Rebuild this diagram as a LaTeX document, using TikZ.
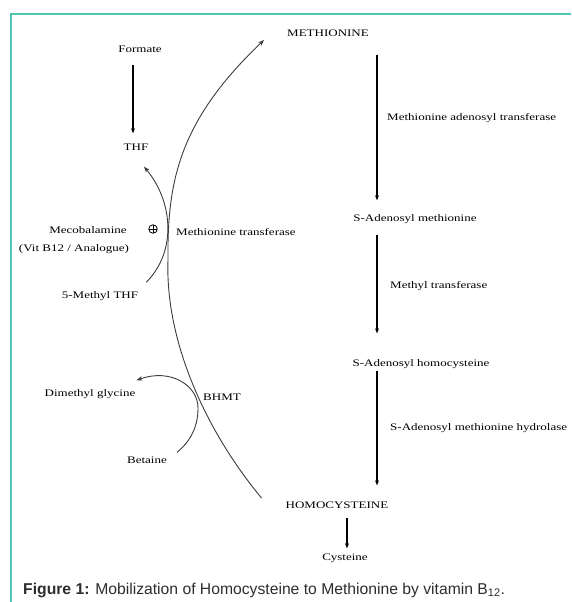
\documentclass[tikz,border=0pt]{standalone}
\usepackage{fontspec}
\setmainfont{Liberation Serif}[FakeStretch=1.3]
\newfontfamily\capfont{Liberation Sans}
\usetikzlibrary{arrows.meta,calc}
\definecolor{framec}{RGB}{77,199,179}
\definecolor{curvec}{RGB}{60,60,60}
\definecolor{capc}{RGB}{45,45,45}
\begin{document}
\begin{tikzpicture}[x=1pt,y=-1pt,
  lbl/.style={inner sep=0pt, font=\fontsize{10}{12}\selectfont, text height=7pt, text depth=0pt},
  arr/.style={line width=1.4pt, -{Stealth[length=5pt,width=4pt]}},
  crv/.style={draw=curvec, line width=0.9pt},
  crvarr/.style={crv, -{Stealth[length=6pt,width=4.5pt]}},
  oplusmark/.style={circle, draw, line width=0.8pt, minimum size=8.5pt, inner sep=0pt,
    path picture={\draw[line width=0.8pt] (path picture bounding box.north) -- (path picture bounding box.south)
      (path picture bounding box.west) -- (path picture bounding box.east);}}
]
\useasboundingbox (0,0) rectangle (571,602);
\draw[framec, line width=2pt] (571,14) -- (11,14) -- (11,602);

% labels
\node[lbl] (formate) at (140,49) {Formate};
\node[lbl] (thf) at (136,147) {THF};
\node[lbl] (met) at (328,33) {METHIONINE};
\node[lbl] (sam) at (415,218) {S-Adenosyl methionine};
\node[lbl] (sah) at (421,363) {S-Adenosyl homocysteine};
\node[lbl] (hcy) at (337,505) {HOMOCYSTEINE};
\node[lbl] (cys) at (345,557) {Cysteine};
\node[lbl,anchor=west] (mat) at (387,117) {Methionine adenosyl transferase};
\node[lbl,anchor=west] (mt) at (390,285) {Methyl transferase};
\node[lbl,anchor=west] (sahh) at (390,427) {S-Adenosyl methionine hydrolase};
\node[lbl,anchor=west] (ms) at (176,232) {Methionine transferase};
\node[lbl] (mecob) at (88,230) {Mecobalamine};
\node[lbl] (vit) at (74,248) {(Vit B12 / Analogue)};
\node[lbl] (mthf) at (100,295) {5-Methyl THF};
\node[lbl] (dmg) at (90,393) {Dimethyl glycine};
\node[lbl] (bhmt) at (222,397) {BHMT};
\node[lbl] (bet) at (147,460) {Betaine};
\node[oplusmark] (plus) at (153,229) {};

% right column arrows
\coordinate (col) at (377,0);
\coordinate (col2) at (347,0);
\draw[arr, shorten <=18pt, shorten >=14pt] (met.south -| col) -- (sam.north -| col);
\draw[arr, shorten <=13pt, shorten >=26pt] (sam.south -| col) -- (sah.north -| col);
\draw[arr, shorten <=4pt, shorten >=16pt] (sah.south -| col) -- (hcy.north -| col);
\draw[arr, line width=1.7pt, shorten <=9pt, shorten >=5pt] (hcy.south -| col2) -- (cys.north -| col2);
\draw[arr, shorten <=12pt, shorten >=10pt] ([xshift=-3pt]thf.north |- formate.south) -- ([xshift=-3pt]thf.north);

% main curve homocysteine -> methionine
\draw[crvarr] ($(hcy.west)+(-24,-7)$) .. controls (205,430) and (165,340) .. (168,260)
  .. controls (167,180) and (180,120) .. ($(met.west)+(-23,7)$);
% 5-methyl THF -> THF
\draw[crvarr] ($(mthf.north east)+(8,-9)$) .. controls (178,250) and (172,200) .. ($(thf.south)+(8,16)$);
% betaine -> dimethyl glycine
\draw[crvarr] ($(bet.north east)+(10,-4)$) .. controls (192,440) and (198,425) .. (198,408)
  .. controls (198,385) and (170,368) .. ($(dmg.north east)+(1,-9)$);

% caption
\node[anchor=base west, inner sep=0pt, text=capc, font=\capfont\fontsize{15.7}{18}\selectfont] (cap) at (23,594)
  {\textbf{Figure 1:} Mobilization of Homocysteine to Methionine by vitamin B\textsubscript{12}.};
\end{tikzpicture}
\end{document}
